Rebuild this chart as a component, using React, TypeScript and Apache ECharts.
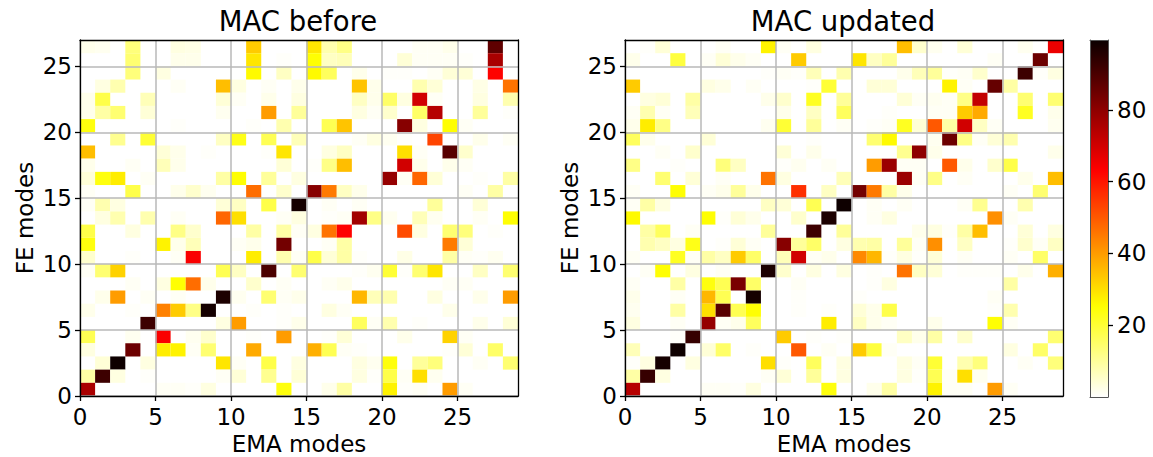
import React, { useEffect, useRef } from "react";
import * as echarts from "echarts";

const FONT = "DejaVu Sans";
const COLS = 29;
const ROWS = 27;
const xTicks = [0, 5, 10, 15, 20, 25];
const yTicks = [0, 5, 10, 15, 20, 25];
const barTicks = [20, 40, 60, 80];
const BAR_MAX = 99.5;

// Each entry is one row, top row (26) first: { column: MAC value }
const macBeforeRows: Record<number, number>[] = [
  { 0: 2, 1: 1.5, 3: 13, 6: 3, 7: 2.5, 11: 33, 15: 29, 16: 8, 17: 12, 22: 1, 23: 1, 24: 2, 27: 87 },
  { 3: 14, 6: 2, 7: 2, 11: 29, 13: 0.5, 15: 25, 16: 6, 17: 7, 21: 4, 22: 1, 23: 1, 24: 1, 25: 0.5, 27: 76 },
  { 3: 13, 5: 3, 11: 26, 13: 6, 15: 26, 16: 16, 18: 2, 20: 0.5, 21: 0.5, 23: 1, 24: 4, 25: 4, 27: 63 },
  { 1: 3, 2: 8, 6: 1, 9: 35, 10: 3, 12: 1, 14: 2, 18: 34, 19: 2, 22: 8, 23: 4, 26: 2.5, 28: 46 },
  { 0: 2, 1: 18, 4: 7, 9: 4, 10: 1, 12: 2, 14: 3, 18: 6, 19: 2, 20: 15, 21: 3, 22: 70, 23: 1, 26: 3, 28: 8 },
  { 0: 2, 1: 9, 2: 14, 4: 4, 9: 1.5, 12: 40, 14: 10, 18: 3, 19: 1, 20: 5, 22: 15, 23: 74, 26: 10, 28: 0.5 },
  { 0: 24, 6: 0.5, 11: 0.5, 13: 8, 16: 17, 17: 34, 21: 81, 22: 3, 24: 25, 25: 1 },
  { 2: 11, 4: 20, 9: 6, 10: 23, 12: 17, 14: 7, 18: 1, 19: 3, 20: 1.5, 21: 0.5, 23: 53, 26: 2, 28: 1 },
  { 0: 35, 5: 4, 6: 2, 8: 0.5, 12: 0.5, 13: 29, 16: 3, 17: 6, 21: 30, 22: 1, 24: 88, 25: 5 },
  { 0: 2, 3: 1, 5: 7, 6: 2, 13: 4, 15: 0.5, 16: 12, 17: 35, 21: 70, 22: 2, 24: 2, 25: 1 },
  { 0: 4, 1: 24, 2: 28, 4: 1, 9: 9, 10: 25, 12: 10, 14: 3, 20: 79, 21: 1, 22: 48, 23: 4, 26: 0.5, 28: 9 },
  { 0: 1, 3: 18, 6: 2, 7: 5, 8: 1.5, 11: 47, 13: 5, 15: 81, 16: 45, 17: 6, 18: 2, 25: 1, 27: 9 },
  { 0: 1, 1: 8, 2: 3, 9: 4, 10: 6, 12: 18, 14: 98, 16: 1, 18: 1, 23: 10, 26: 4 },
  { 1: 3, 2: 8, 4: 8, 6: 1, 9: 48, 10: 30, 13: 1, 14: 3, 16: 0.5, 17: 1, 18: 77, 19: 12, 20: 1.5, 22: 7, 23: 1.5, 26: 1, 28: 25 },
  { 0: 18, 3: 3, 6: 12, 7: 5, 11: 9, 13: 9, 14: 1, 15: 3, 16: 46, 17: 63, 21: 52, 22: 3, 24: 14, 25: 13, 27: 0.5 },
  { 0: 24, 5: 27, 6: 2, 7: 7, 10: 1, 11: 2, 13: 84, 16: 1, 17: 9, 24: 45, 25: 4 },
  { 0: 5, 3: 0.5, 6: 1, 7: 64, 11: 28, 13: 8, 14: 1, 15: 18, 16: 4, 17: 9, 18: 0.5, 21: 2.5, 24: 9, 25: 1, 26: 0.5, 27: 1.5 },
  { 0: 1, 1: 14, 2: 32, 9: 17, 10: 6, 12: 90, 14: 14, 18: 0.5, 19: 1.5, 20: 20, 21: 0.5, 22: 14, 23: 29, 26: 6, 28: 14 },
  { 3: 1, 5: 3, 6: 25, 7: 47, 8: 2, 11: 5, 13: 1, 16: 1, 17: 2, 24: 1, 25: 1 },
  { 1: 2, 2: 40, 4: 1, 6: 1, 9: 97, 10: 1.5, 12: 14, 13: 1, 14: 2, 18: 36, 19: 7, 20: 8, 23: 3, 26: 2, 28: 40 },
  { 0: 2, 3: 0.5, 5: 44, 6: 33, 7: 12, 8: 98, 11: 0.5, 13: 0.5, 16: 3, 17: 1, 24: 2 },
  { 4: 92, 9: 3, 10: 40, 13: 0.5, 14: 2, 18: 16, 19: 1, 20: 8, 22: 0.5, 26: 2, 28: 4 },
  { 0: 17, 3: 1.5, 5: 64, 7: 1.5, 8: 5, 11: 0.5, 13: 40, 16: 0.5, 17: 4, 21: 2, 24: 32, 25: 1 },
  { 0: 3, 3: 85, 5: 28, 6: 27, 7: 1, 8: 14, 11: 38, 15: 37, 16: 17, 17: 1, 18: 0.5, 24: 0.5, 25: 4, 27: 15 },
  { 1: 4, 2: 99, 4: 3, 9: 29, 10: 1, 12: 18, 14: 3, 18: 3, 19: 1.5, 20: 24, 22: 10, 23: 13, 26: 1, 28: 14 },
  { 0: 9, 1: 92, 2: 3, 4: 0.5, 9: 1, 10: 4, 12: 11, 14: 4, 18: 3, 19: 0.5, 20: 18, 21: 1, 22: 30, 23: 1.5 },
  { 0: 76, 5: 1, 6: 1, 7: 0.5, 8: 3, 13: 24, 16: 2, 17: 9, 20: 27, 21: 0.5, 22: 1, 24: 40, 25: 1 },
];

const macUpdatedRows: Record<number, number>[] = [
  { 1: 0.5, 2: 4, 6: 1, 9: 27, 10: 1, 12: 3, 18: 35, 19: 5, 20: 1.5, 22: 4, 26: 1.5, 28: 66 },
  { 0: 2, 3: 19, 5: 1, 6: 4, 7: 2, 8: 1, 11: 33, 15: 29, 16: 6, 17: 10, 24: 1, 27: 85 },
  { 9: 0.5, 10: 1, 11: 0.5, 12: 7, 14: 8, 18: 2, 19: 7, 20: 10, 21: 0.5, 22: 1, 23: 5, 26: 92, 27: 0.5, 28: 3 },
  { 0: 33, 5: 3, 6: 2, 8: 1, 12: 0.5, 13: 20, 16: 4, 17: 4, 21: 27, 22: 1, 24: 86, 25: 9 },
  { 1: 3, 2: 4, 4: 9, 9: 2, 10: 5, 12: 22, 14: 10, 18: 4, 19: 1, 20: 1.5, 21: 1, 22: 12, 23: 72, 26: 14, 28: 14 },
  { 0: 1, 1: 8, 2: 1, 4: 7, 10: 2, 12: 6, 14: 16, 17: 0.5, 20: 1, 21: 1, 22: 33, 23: 38, 26: 22, 28: 2 },
  { 0: 2, 1: 28, 2: 12, 9: 1.5, 10: 20, 12: 10, 14: 1, 16: 0.5, 17: 1, 18: 22, 19: 4, 20: 50, 21: 9, 22: 70, 23: 6, 24: 1, 28: 1.5 },
  { 0: 16, 1: 2, 5: 4, 12: 0.5, 16: 14, 17: 26, 20: 1.5, 21: 85, 22: 12, 23: 1, 24: 4, 25: 8 },
  { 2: 1, 4: 5, 10: 4, 12: 2, 18: 11, 19: 80, 20: 2, 28: 2 },
  { 0: 12, 3: 0.5, 6: 13, 7: 6, 10: 0.5, 11: 1.5, 13: 1, 16: 40, 17: 78, 18: 1, 19: 1, 21: 50, 22: 2, 24: 5, 25: 18 },
  { 2: 14, 4: 4, 6: 1, 9: 46, 10: 3, 14: 7, 18: 78, 19: 1, 20: 12, 22: 1, 26: 2, 28: 35 },
  { 0: 1, 3: 25, 5: 1, 6: 2, 7: 10, 8: 2, 11: 56, 13: 6, 15: 84, 16: 45, 17: 9, 18: 2, 25: 1, 27: 14 },
  { 0: 1, 1: 9, 2: 3, 9: 6, 10: 4, 12: 17, 14: 99, 16: 1, 18: 1, 22: 1, 23: 11, 26: 8 },
  { 0: 26, 5: 25, 6: 0.5, 7: 4, 8: 2, 11: 5, 13: 97, 16: 1, 17: 3, 24: 42, 25: 1 },
  { 1: 9, 2: 16, 4: 1, 9: 10, 12: 92, 14: 10, 19: 2, 20: 3, 21: 0.5, 22: 9, 23: 35, 26: 4, 28: 3 },
  { 1: 8, 2: 6, 3: 3, 4: 23, 6: 0.5, 7: 4, 8: 1, 10: 81, 11: 10, 12: 15, 14: 3, 15: 8, 16: 9, 18: 10, 19: 1, 20: 42, 22: 6, 25: 0.5, 26: 5, 27: 1, 28: 6 },
  { 0: 1, 3: 22, 4: 1, 5: 9, 6: 6, 7: 33, 8: 15, 10: 7, 11: 70, 12: 1, 13: 2, 15: 43, 16: 36, 17: 0.5, 18: 3, 19: 0.5, 20: 4, 22: 1, 25: 1, 27: 15 },
  { 1: 1, 2: 25, 4: 3, 6: 1, 9: 97, 10: 5, 12: 3, 14: 3, 16: 0.5, 18: 46, 19: 6, 20: 4, 22: 0.5, 23: 0.5, 24: 0.5, 26: 2, 28: 37 },
  { 0: 1, 3: 9, 5: 24, 6: 17, 7: 83, 8: 15, 11: 1, 16: 0.5, 17: 3, 25: 9 },
  { 0: 2, 3: 1, 5: 36, 6: 17, 8: 98, 11: 0.5, 15: 0.5, 24: 1 },
  { 0: 1.5, 3: 9, 5: 30, 6: 88, 7: 17, 8: 25, 11: 0.5, 13: 0.5, 15: 4, 16: 2, 17: 18, 24: 0.5, 25: 8 },
  { 0: 3, 3: 1, 5: 79, 6: 1, 7: 2, 8: 16, 13: 28, 15: 6, 16: 2, 17: 1, 20: 2, 24: 25, 25: 1 },
  { 3: 0.5, 4: 93, 10: 33, 12: 0.5, 14: 0.5, 18: 6, 19: 2, 20: 9, 22: 5, 28: 14 },
  { 0: 7, 3: 99, 5: 4, 6: 15, 8: 0.5, 11: 50, 13: 1, 15: 33, 16: 19, 17: 1, 25: 3, 27: 15 },
  { 0: 0.5, 1: 3, 2: 98, 4: 3, 9: 30, 10: 0.5, 12: 16, 14: 3, 18: 3, 19: 1, 20: 20, 22: 8, 23: 13, 26: 1, 28: 13 },
  { 0: 9, 1: 93, 2: 3, 9: 1, 10: 4, 12: 10, 14: 3, 18: 3, 19: 0.5, 20: 17, 21: 1, 22: 30, 23: 1.5 },
  { 0: 74, 5: 1, 6: 1, 7: 0.5, 8: 3, 13: 24, 16: 2, 17: 9, 20: 27, 21: 1, 22: 1, 24: 40, 25: 1 },
];

const toCells = (rows: Record<number, number>[]) =>
  rows.flatMap((row, i) =>
    Object.entries(row).map(([c, v]) => [Number(c), ROWS - 1 - i, v])
  );

// matplotlib's hot_r colormap
const hotR = (t: number) => {
  const u = 1 - t;
  const r = Math.min(1, 0.0416 + (u / 0.365) * 0.9584);
  const g = Math.max(0, Math.min(1, (u - 0.365) / 0.381));
  const b = Math.max(0, Math.min(1, (u - 0.746) / 0.254));
  return `rgb(${Math.round(r * 255)},${Math.round(g * 255)},${Math.round(b * 255)})`;
};
const colorStops = Array.from({ length: 101 }, (_, i) => hotR(i / 100));

const cellItem = (_: any, api: any) => {
  const x = api.value(0);
  const y = api.value(1);
  const a = api.coord([x, y + 1]);
  const b = api.coord([x + 1, y]);
  return {
    type: "rect",
    shape: { x: a[0], y: a[1], width: b[0] - a[0], height: b[1] - a[1] },
    style: { fill: api.visual("color") },
  };
};

const barItem = (_: any, api: any) => {
  const a = api.coord([0, BAR_MAX]);
  const b = api.coord([1, 0]);
  return {
    type: "rect",
    shape: { x: a[0], y: a[1], width: b[0] - a[0], height: b[1] - a[1] },
    style: {
      fill: new echarts.graphic.LinearGradient(
        0, 1, 0, 0,
        colorStops.map((color, i) => ({ offset: i / 100, color }))
      ),
    },
  };
};

const labelStyle = { fontFamily: FONT, fontSize: 23, color: "#000" };
const nameStyle = { fontFamily: FONT, fontSize: 23, color: "#000" };
const titleStyle = { fontFamily: FONT, fontSize: 27.5, fontWeight: "normal", color: "#000" };
const gridLine = { show: true, lineStyle: { color: "#b8b8b8", width: 1.5 } };
const black = { show: true, onZero: false, lineStyle: { color: "#000", width: 1.3 } };
const tickLine = { color: "#000", width: 1.3 };
const frameBits = {
  axisTick: { show: false },
  axisLabel: { show: false },
  splitLine: { show: false },
};

const panelAxes = (gridIndex: number) => ({
  x: [
    {
      type: "value", gridIndex, min: 0, max: COLS, z: 10,
      name: "EMA modes", nameLocation: "middle", nameGap: 36, nameTextStyle: nameStyle,
      axisLine: black,
      axisTick: { show: true, length: 5, customValues: xTicks, lineStyle: tickLine },
      axisLabel: { ...labelStyle, margin: 9, customValues: xTicks },
      splitLine: gridLine,
    },
    { type: "value", gridIndex, min: 0, max: COLS, position: "top", z: 11, axisLine: black, ...frameBits },
  ],
  y: [
    {
      type: "value", gridIndex, min: 0, max: ROWS, z: 10,
      name: "FE modes", nameLocation: "middle", nameGap: 44, nameTextStyle: nameStyle,
      axisLine: black,
      axisTick: { show: true, length: 5, customValues: yTicks, lineStyle: tickLine },
      axisLabel: { ...labelStyle, margin: 8, customValues: yTicks },
      splitLine: gridLine,
    },
    { type: "value", gridIndex, min: 0, max: ROWS, position: "right", z: 11, axisLine: black, ...frameBits },
  ],
});

export default function App() {
  const ref = useRef<HTMLDivElement>(null);
  useEffect(() => {
    const chart = echarts.init(ref.current!, undefined, { renderer: "svg" });
    const a = panelAxes(0);
    const b = panelAxes(1);
    const barLine = { show: true, onZero: false, lineStyle: { color: "#555", width: 1 } };
    chart.setOption({
      animation: false,
      backgroundColor: "#fff",
      title: [
        { text: "MAC before", left: 293, top: 2, textAlign: "center", textStyle: titleStyle },
        { text: "MAC updated", left: 838, top: 2, textAlign: "center", textStyle: titleStyle },
      ],
      grid: [
        { left: 80, top: 40, width: 438, height: 356, outerBoundsMode: "none" },
        { left: 625, top: 40, width: 438, height: 356, outerBoundsMode: "none" },
        { left: 1090, top: 40, width: 18, height: 357, outerBoundsMode: "none" },
      ],
      xAxis: [
        ...a.x,
        ...b.x,
        { type: "value", gridIndex: 2, min: 0, max: 1, axisLine: barLine, ...frameBits, z: 10 },
        { type: "value", gridIndex: 2, min: 0, max: 1, position: "top", axisLine: barLine, ...frameBits, z: 10 },
      ],
      yAxis: [
        ...a.y,
        ...b.y,
        {
          type: "value", gridIndex: 2, min: 0, max: BAR_MAX, position: "right", z: 10,
          axisLine: barLine,
          axisTick: { show: true, length: 5, customValues: barTicks, lineStyle: tickLine },
          axisLabel: { ...labelStyle, margin: 9, customValues: barTicks },
          splitLine: { show: false },
        },
        { type: "value", gridIndex: 2, min: 0, max: BAR_MAX, position: "left", axisLine: barLine, ...frameBits, z: 10 },
      ],
      visualMap: {
        show: false,
        type: "continuous",
        min: 0,
        max: BAR_MAX,
        dimension: 2,
        seriesIndex: [0, 1],
        inRange: { color: colorStops },
      },
      series: [
        { type: "custom", name: "MAC before", coordinateSystem: "cartesian2d", xAxisIndex: 0, yAxisIndex: 0, data: toCells(macBeforeRows), encode: { x: 0, y: 1 }, renderItem: cellItem, clip: true, z: 2 },
        { type: "custom", name: "MAC updated", coordinateSystem: "cartesian2d", xAxisIndex: 2, yAxisIndex: 2, data: toCells(macUpdatedRows), encode: { x: 0, y: 1 }, renderItem: cellItem, clip: true, z: 2 },
        { type: "custom", name: "colorbar", coordinateSystem: "cartesian2d", xAxisIndex: 4, yAxisIndex: 4, data: [[0, 0]], encode: { x: 0, y: 1 }, renderItem: barItem, z: 2 },
      ],
    });
    return () => chart.dispose();
  }, []);
  return <div ref={ref} style={{ position: "fixed", left: 0, top: 0, width: 1153, height: 457 }} />;
}
